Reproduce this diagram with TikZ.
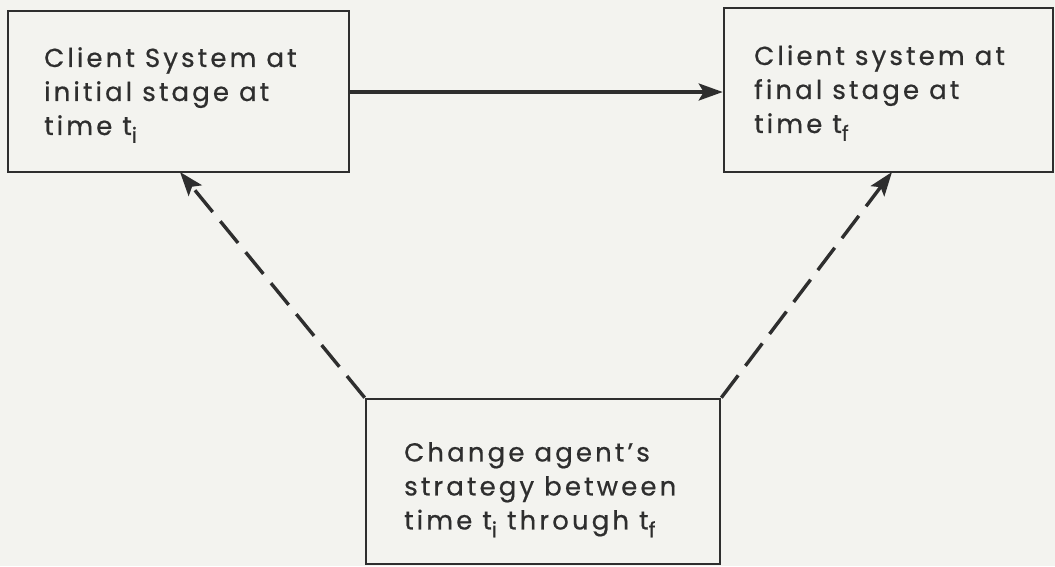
\documentclass[tikz,border=0pt]{standalone}
\usepackage{fontspec}
\setmainfont{Poppins}[LetterSpace=12,FakeBold=0.6]
\usetikzlibrary{arrows.meta}
\definecolor{ink}{HTML}{2E2E2E}
\definecolor{paper}{HTML}{F3F3EF}
\newcommand{\sub}[1]{\raisebox{-0.55ex}{\fontsize{21}{21}\selectfont #1}}
\begin{document}
\begin{tikzpicture}[x=1pt,y=-1pt,
  box/.style={draw=ink,line width=2.6pt,rectangle,inner sep=0pt},
  lbl/.style={align=left,text=ink,font=\fontsize{26}{34}\selectfont,anchor=north west,inner sep=0pt},
  link/.style={draw=ink,line width=3.4pt,-{Stealth[length=24pt,width=17pt,inset=5pt]}},
  dashlink/.style={link,dash pattern=on 28pt off 12pt}]
\fill[paper] (0,0) rectangle (1055,566);
\useasboundingbox (0,0) rectangle (1055,566);
% three boxes
\node[box,minimum width=341pt,minimum height=161pt] (init) at (178.5,91.5) {};
\node[box,minimum width=329pt,minimum height=164pt] (final) at (888.5,90) {};
\node[box,minimum width=354pt,minimum height=165pt] (agent) at (543,481.5) {};
% box texts
\node[lbl] (initT) at (44,47) {Client System at\\initial stage at\\time t\sub{i}};
\node[lbl] (finalT) at (754,45) {Client system at\\final stage at\\time t\sub{f}};
\node[lbl] (agentT) at (404,442) {Change agent's\\strategy between\\time t\sub{i} through t\sub{f}};
% connectors
\coordinate (tipL) at (180,172);
\coordinate (tipR) at (892,172);
\draw[link] (init.east |- 0,92) -- (final.west |- 0,92);
\draw[dashlink] (agent.north west) -- (tipL);
\draw[dashlink] (agent.north east) -- (tipR);
\end{tikzpicture}
\end{document}
